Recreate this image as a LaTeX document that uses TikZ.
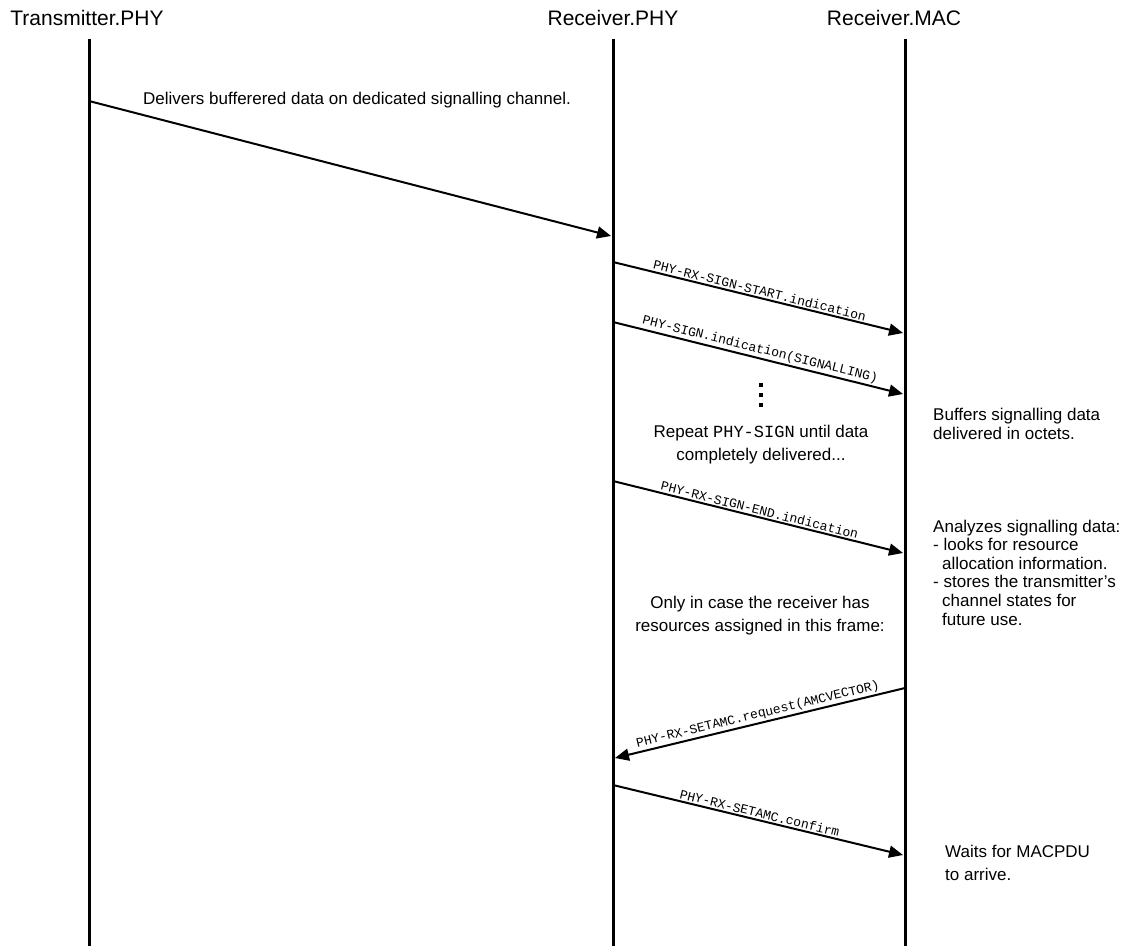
\documentclass[tikz,border=0pt]{standalone}
\usepackage{fontspec}
\setmainfont{Liberation Sans}
\setmonofont{Liberation Mono}
\usetikzlibrary{arrows.meta,positioning}

\begin{document}
\begin{tikzpicture}[x=1pt,y=-1pt,
    entity/.style={inner sep=0pt, anchor=base, font=\fontsize{21}{25}\selectfont},
    lifeline/.style={line width=3pt},
    msg/.style={line width=2pt, -{Triangle[length=14pt,width=12pt]}},
    msglabel/.style={sloped, above, inner sep=1.5pt, font=\ttfamily\fontsize{13}{15}\selectfont},
    remark/.style={inner sep=0pt, anchor=base, align=center, font=\fontsize{17}{22.5}\selectfont},
    note/.style={inner sep=0pt, anchor=base west, align=left, font=\fontsize{17}{18.6}\selectfont}]

\useasboundingbox (0,0) rectangle (1131,946);

\node[entity] at (87,25) (tx) {Transmitter.PHY};
\node[entity] at (613,25) (rxphy) {Receiver.PHY};
\node[entity] at (894,25) (rxmac) {Receiver.MAC};

\coordinate (tx top) at (89,39);
\coordinate (tx bot) at (89,946);
\coordinate (rxphy top) at (613,39);
\coordinate (rxphy bot) at (613,946);
\coordinate (rxmac top) at (905,39);
\coordinate (rxmac bot) at (905,946);

\draw[lifeline] (tx top) -- (tx bot);
\draw[lifeline] (rxphy top) -- (rxphy bot);
\draw[lifeline] (rxmac top) -- (rxmac bot);

% message end points on the lifelines
\coordinate (s1) at (89,101);
\coordinate (e1) at (611,236);
\coordinate (s2) at (613,262);
\coordinate (e2) at (903,333);
\coordinate (s3) at (613,322);
\coordinate (e3) at (903,394);
\coordinate (s4) at (613,481);
\coordinate (e4) at (903,553);
\coordinate (s5) at (905,688);
\coordinate (e5) at (615,758);
\coordinate (s6) at (613,785);
\coordinate (e6) at (903,855);

\node[remark] at (357,104) (deliver) {Delivers bufferered data on dedicated signalling channel.};
\draw[msg] (s1) -- (e1);

\draw[msg] (s2) -- node[msglabel] (start) {PHY-RX-SIGN-START.indication} (e2);
\draw[msg] (s3) -- node[msglabel] (sign) {PHY-SIGN.indication(SIGNALLING)} (e3);

\foreach \y in {385,395,405}
    \fill (759,\y-2) rectangle +(4,4);

% multi-line nodes: base is the last line
\node[remark] at (761,460) (repeat) {Repeat \texttt{PHY-SIGN} until data\\completely delivered...};

\draw[msg] (s4) -- node[msglabel] (end) {PHY-RX-SIGN-END.indication} (e4);

\node[remark] at (760,631) (only) {Only in case the receiver has\\resources assigned in this frame:};

\draw[msg] (s5) -- node[msglabel] (request) {PHY-RX-SETAMC.request(AMCVECTOR)} (e5);
\draw[msg] (s6) -- node[msglabel] (confirm) {PHY-RX-SETAMC.confirm} (e6);

\node[note] at (933,439) (buffers) {Buffers signalling data\\delivered in octets.};
\node[note] at (933,625) (analyzes) {Analyzes signalling data:\\- looks for resource\\\hspace*{9pt}allocation information.\\- stores the transmitter’s\\\hspace*{9pt}channel states for\\\hspace*{9pt}future use.};
\node[note, font=\fontsize{17}{23}\selectfont] at (945,880) (waits) {Waits for MACPDU\\to arrive.};
\end{tikzpicture}
\end{document}
